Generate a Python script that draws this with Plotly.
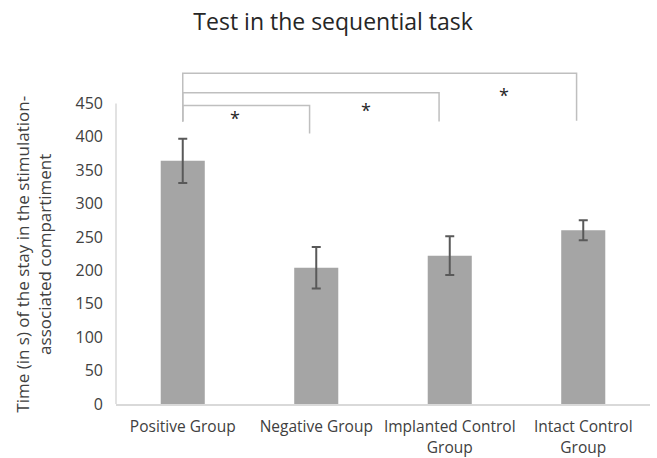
import plotly.graph_objects as go

categories = ["Positive Group", "Negative Group", "Implanted Control<br>Group", "Intact Control<br>Group"]
means = [364, 204, 222, 260]
errors = [33, 31, 29, 15]
y_ticks = [0, 50, 100, 150, 200, 250, 300, 350, 400, 450]
y_title = "Time (in s) of the stay in the stimulation-<br>associated compartiment"

# significance brackets: (left category idx, right category idx, bracket height, left leg bottom, right leg bottom)
brackets = [
    (0, 0.95, 447, 423, 405),
    (0, 1.92, 466, 423, 423),
    (0, 2.95, 495, 423, 424),
]
stars = [(0.39, 428), (1.37, 440), (2.41, 463)]

FONT = "Open Sans"
x_idx = list(range(len(categories)))

fig = go.Figure()
fig.add_trace(go.Bar(
    x=x_idx, y=means,
    marker=dict(color="#A5A5A5", line=dict(width=0)),
    error_y=dict(type="data", array=errors, visible=True, color="#595959", thickness=2, width=4.5),
    width=0.33,
))

shapes = []
for l, r, h, lb, rb in brackets:
    shapes.append(dict(type="path", xref="x", yref="y",
                       path=f"M {l},{lb} L {l},{h} L {r},{h} L {r},{rb}",
                       line=dict(color="#BFBFBF", width=1.5)))
# left axis line (only up to 450)
shapes.append(dict(type="line", xref="paper", yref="y", x0=0, x1=0, y0=0, y1=y_ticks[-1],
                   line=dict(color="#D9D9D9", width=1.5)))

annotations = [dict(x=sx, y=sy, xref="x", yref="y", text="*", showarrow=False,
                    font=dict(family=FONT, size=18, color="#262626")) for sx, sy in stars]
# y-axis title centred on the 0..450 axis, like the original
annotations.append(dict(x=-0.1536, xref="paper", xanchor="center", y=(y_ticks[0] + y_ticks[-1]) / 2,
                        yref="y", yanchor="middle", text=y_title, textangle=-90, showarrow=False,
                        font=dict(family=FONT, size=17, color="#404040")))

fig.update_layout(
    width=657, height=458,
    margin=dict(l=116, r=7, t=70, b=54),
    paper_bgcolor="white", plot_bgcolor="white",
    showlegend=False,
    title=dict(text="Test in the sequential task", x=0.507, xanchor="center", y=0.952, yanchor="middle",
               font=dict(family=FONT, size=23, color="#262626")),
    xaxis=dict(range=[-0.5, 3.5], tickvals=x_idx, ticktext=categories, showline=True,
               linecolor="#D9D9D9", linewidth=1.5, showgrid=False, zeroline=False, ticks="",
               ticklabelstandoff=8, automargin=False,
               tickfont=dict(family=FONT, size=15.5, color="#404040")),
    yaxis=dict(range=[0, 500], tickvals=y_ticks, showline=False, showgrid=False, zeroline=False,
               ticks="", ticklen=0, ticklabelstandoff=12, automargin=False,
               tickfont=dict(family=FONT, size=16, color="#404040")),
    shapes=shapes, annotations=annotations,
)

fig.write_html("out.html")
